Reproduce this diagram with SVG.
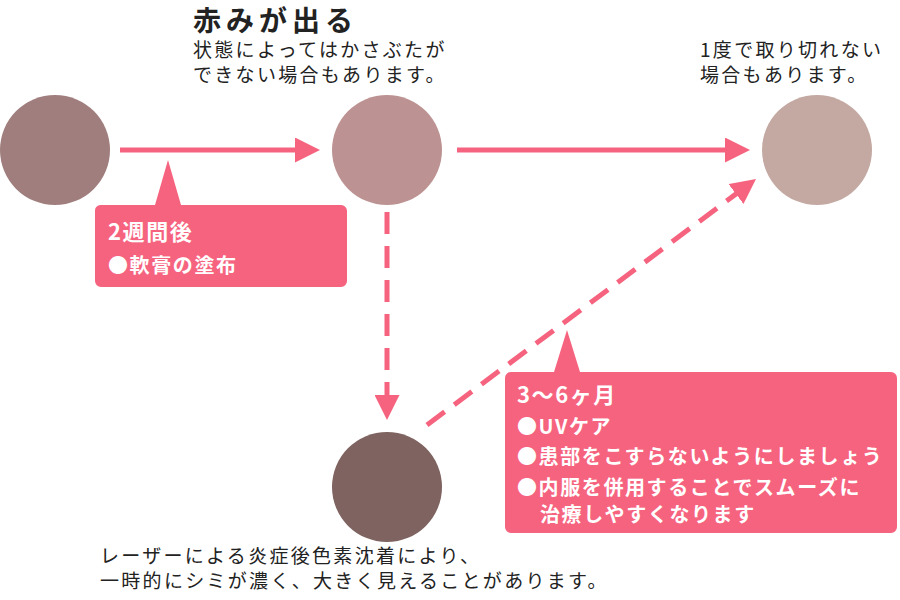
<svg xmlns="http://www.w3.org/2000/svg" width="900" height="600" viewBox="0 0 900 600">
<style>
text{font-family:"Noto Sans CJK JP","Noto Sans",sans-serif;fill:#222}
.w{fill:#fff;font-weight:bold;font-size:20px;letter-spacing:1.6px}
.h{font-size:22px}
.s{font-size:19px;letter-spacing:2.3px}
.ln{stroke:#f6637f;stroke-width:5;fill:none}
.d{stroke-dasharray:22,12}
.box{fill:#f6637f}
</style>
<defs><marker id="a" viewBox="0 0 10 10" refX="6" refY="5" markerWidth="5" markerHeight="5" orient="auto" markerUnits="strokeWidth"><path d="M0,0L10,5L0,10z" fill="#f6637f"/></marker></defs>
<g id="connectors">
<line class="ln" x1="120" y1="150" x2="310" y2="150" marker-end="url(#a)"/>
<line class="ln" x1="457" y1="150" x2="740" y2="150" marker-end="url(#a)"/>
<line class="ln d" x1="387" y1="212" x2="387" y2="410" marker-end="url(#a)"/>
<line class="ln d" x1="427" y1="425" x2="748" y2="185" marker-end="url(#a)"/>
</g>
<g id="n1"><circle cx="55" cy="150" r="55" fill="#a07e7e"/></g>
<g id="n2"><circle cx="387" cy="150" r="55" fill="#bc9392"/>
<text x="193" y="31" style="font-size:28px;font-weight:bold;letter-spacing:5px">赤みが出る</text>
<text class="s" x="193" y="57">状態によってはかさぶたが</text>
<text class="s" x="193" y="82">できない場合もあります。</text></g>
<g id="n3"><circle cx="817" cy="150" r="55" fill="#c4a9a2"/>
<text class="s" x="700" y="57">1度で取り切れない</text>
<text class="s" x="700" y="82">場合もあります。</text></g>
<g id="n4"><circle cx="387" cy="487" r="55" fill="#7e6360"/>
<text class="s" x="100" y="563">レーザーによる炎症後色素沈着により、</text>
<text class="s" x="100" y="588">一時的にシミが濃く、大きく見えることがあります。</text></g>
<g id="c1"><path class="box" d="M100,205H155L168,160L181,205H341a6,6 0 0 1 6,6V281a6,6 0 0 1 -6,6H101a6,6 0 0 1 -6,-6V211a6,6 0 0 1 5,-6z"/>
<text class="w h" x="108" y="240">2週間後</text>
<text class="w" x="108" y="273">●軟膏の塗布</text></g>
<g id="c2"><path class="box" d="M511,372H554L567,330L580,372H891a6,6 0 0 1 6,6V527a6,6 0 0 1 -6,6H511a6,6 0 0 1 -6,-6V378a6,6 0 0 1 6,-6z"/>
<text class="w h" x="517" y="403">3～6ヶ月</text>
<text class="w" x="517" y="434">●UVケア</text>
<text class="w" x="517" y="464">●患部をこすらないようにしましょう</text>
<text class="w" x="517" y="495">●内服を併用することでスムーズに</text>
<text class="w" x="540" y="522">治療しやすくなります</text></g>
</svg>
